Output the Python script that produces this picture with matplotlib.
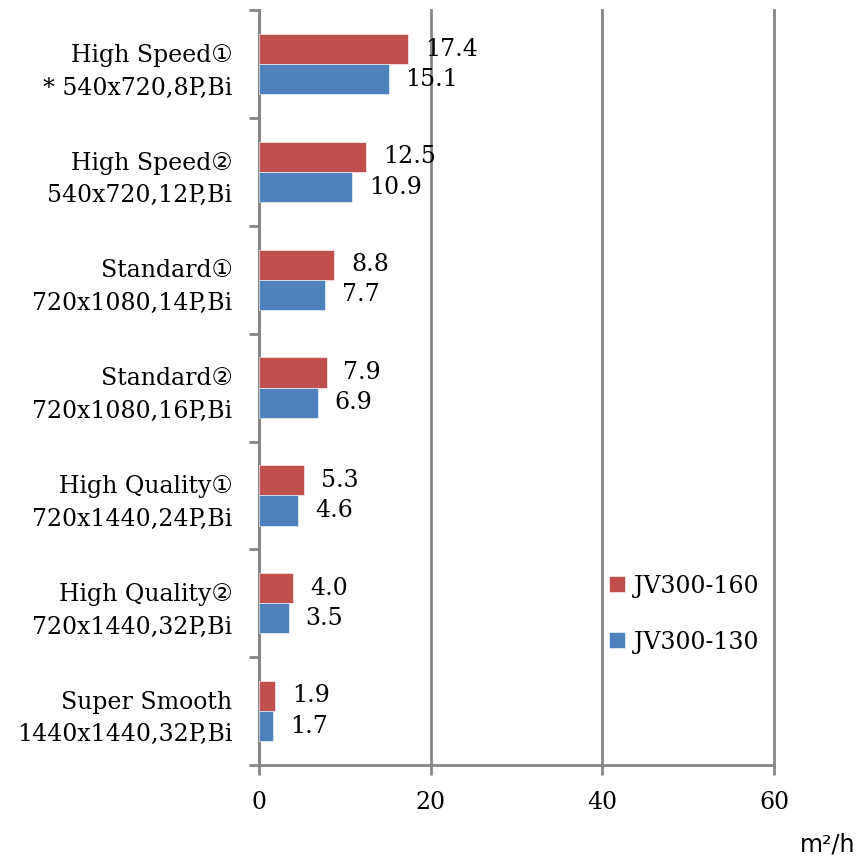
import numpy as np
import matplotlib
matplotlib.use("Agg")
import matplotlib.pyplot as plt
import matplotlib.transforms as mtransforms

plt.rcParams['font.family'] = ['DejaVu Serif', 'DejaVu Sans']

categories = [
    "High Speed①\n* 540x720,8P,Bi",
    "High Speed②\n540x720,12P,Bi",
    "Standard①\n720x1080,14P,Bi",
    "Standard②\n720x1080,16P,Bi",
    "High Quality①\n720x1440,24P,Bi",
    "High Quality②\n720x1440,32P,Bi",
    "Super Smooth\n1440x1440,32P,Bi",
]
jv300_160 = [17.4, 12.5, 8.8, 7.9, 5.3, 4.0, 1.9]
jv300_130 = [15.1, 10.9, 7.7, 6.9, 4.6, 3.5, 1.7]
series_names = ["JV300-160", "JV300-130"]
x_ticks = [0, 20, 40, 60]

red = "#C0504D"
blue = "#4F81BD"
grid_gray = "#868686"
fs = 17

fig = plt.figure(figsize=(8.6, 8.6), dpi=100)
ax = fig.add_axes([0.301, 0.1105, 0.599, 0.8775])

n = len(categories)
y = np.arange(n)[::-1].astype(float)
h = 0.28
b1 = ax.barh(y + h / 2, jv300_160, height=h, color=red, edgecolor="white", linewidth=0.4,
             label=series_names[0], zorder=3)
b2 = ax.barh(y - h / 2, jv300_130, height=h, color=blue, edgecolor="white", linewidth=0.4,
             label=series_names[1], zorder=3)

for bars, vals in [(b1, jv300_160), (b2, jv300_130)]:
    for bar, v in zip(bars, vals):
        ax.annotate(f"{v:.1f}", (v, bar.get_y() + bar.get_height() / 2),
                    xytext=(12, 0), textcoords="offset points",
                    va="center", ha="left", fontsize=fs, zorder=4)

ax.set_xlim(0, 60)
ax.set_ylim(-0.5, n - 0.5)
ax.set_xticks(x_ticks)
ax.set_xticklabels([str(t) for t in x_ticks], fontsize=fs)
ax.set_yticks(y)
ax.set_yticklabels(categories, fontsize=fs, linespacing=1.55)
ax.set_yticks(np.arange(n + 1) - 0.5, minor=True)

# nudge category labels up a little
shift = mtransforms.ScaledTranslation(0, 5 / 100, fig.dpi_scale_trans)
for lbl in ax.get_yticklabels():
    lbl.set_transform(lbl.get_transform() + shift)

ax.tick_params(axis="y", which="major", length=0, pad=19)
ax.tick_params(axis="y", which="minor", length=7, width=2, color=grid_gray, direction="out")
ax.tick_params(axis="x", which="major", length=7, width=2, color=grid_gray, direction="out", pad=12)

ax.xaxis.grid(True, color=grid_gray, linewidth=2)
for gl in ax.get_xgridlines():
    gl.set_clip_on(False)
ax.set_axisbelow(True)
for side in ["top", "right"]:
    ax.spines[side].set_visible(False)
for side in ["left", "bottom"]:
    ax.spines[side].set_color(grid_gray)
    ax.spines[side].set_linewidth(2)

leg = ax.legend(loc="center left", bbox_to_anchor=(0.68, 0.2), frameon=False,
                fontsize=fs, handlelength=0.65, handleheight=0.65, handletextpad=0.4,
                labelspacing=1.4, borderpad=0, borderaxespad=0)

fig.text(0.995, 0.004, "m²/h", ha="right", va="bottom", fontsize=17, family="DejaVu Sans")

fig.savefig("out.png", dpi=100)
